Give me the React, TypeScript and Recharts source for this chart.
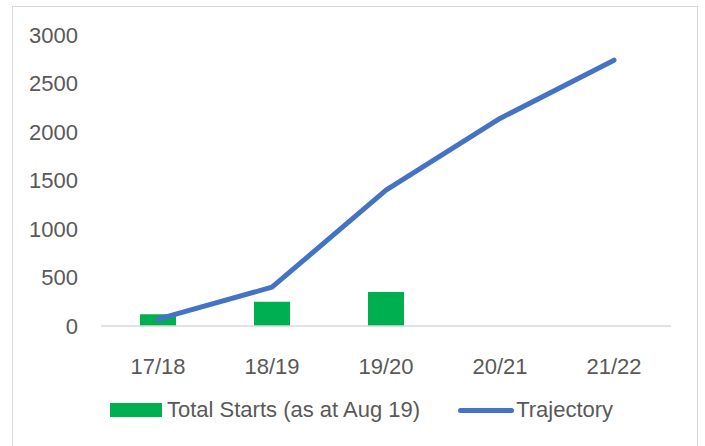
import React from 'react';
import { ComposedChart, Bar, Line, XAxis, YAxis } from 'recharts';

const categories = ['17/18', '18/19', '19/20', '20/21', '21/22'];
const totalStarts = [120, 250, 350, null, null];
const trajectory = [70, 400, 1400, 2140, 2740];
const yTicks = [0, 500, 1000, 1500, 2000, 2500, 3000];
const barName = 'Total Starts (as at Aug 19)';
const lineName = 'Trajectory';

const data = categories.map((c, i) => ({ cat: c, starts: totalStarts[i], traj: trajectory[i] }));

const FONT = '"Liberation Sans", Arial, sans-serif';
const GREEN = '#00B050';
const BLUE = '#4472C4';
const TEXT = '#595959';

export default function App() {
  return (
    <div style={{ position: 'absolute', left: 0, top: 0, width: 705, height: 446, overflow: 'hidden', background: '#fff', fontFamily: FONT }}>
      <div style={{ position: 'absolute', left: 12, top: 6, width: 686, height: 446, border: '1px solid #d9d9d9', borderBottom: 'none', boxSizing: 'border-box' }} />
      <div style={{ position: 'absolute', left: 0, top: 0 }}>
        <ComposedChart width={705} height={446} data={data} margin={{ top: 35, right: 34, left: 0, bottom: 90 }}>
          <XAxis
            dataKey="cat"
            tickLine={false}
            tickMargin={26}
            axisLine={{ stroke: '#d9d9d9', strokeWidth: 1.5 }}
            tick={{ fill: TEXT, fontSize: 22, fontFamily: FONT }}
          />
          <YAxis
            width={101}
            domain={[0, 3000]}
            ticks={yTicks}
            axisLine={false}
            tickLine={false}
            tickMargin={17}
            tick={{ fill: TEXT, fontSize: 22, fontFamily: FONT }}
          />
          <Bar dataKey="starts" name={barName} fill={GREEN} barSize={36} isAnimationActive={false} />
          <Line
            dataKey="traj"
            name={lineName}
            stroke={BLUE}
            strokeWidth={5}
            strokeLinecap="round"
            strokeLinejoin="round"
            dot={false}
            activeDot={false}
            isAnimationActive={false}
          />
        </ComposedChart>
      </div>
      <div style={{ position: 'absolute', left: 110, top: 397, display: 'flex', alignItems: 'center', fontSize: 22, color: TEXT, whiteSpace: 'nowrap', height: 26 }}>
        <div style={{ width: 52, height: 14, background: GREEN, marginRight: 5 }} />
        <span>{barName}</span>
        <div style={{ width: 56, height: 5, background: BLUE, borderRadius: 3, marginLeft: 38, marginRight: 2 }} />
        <span>{lineName}</span>
      </div>
    </div>
  );
}
